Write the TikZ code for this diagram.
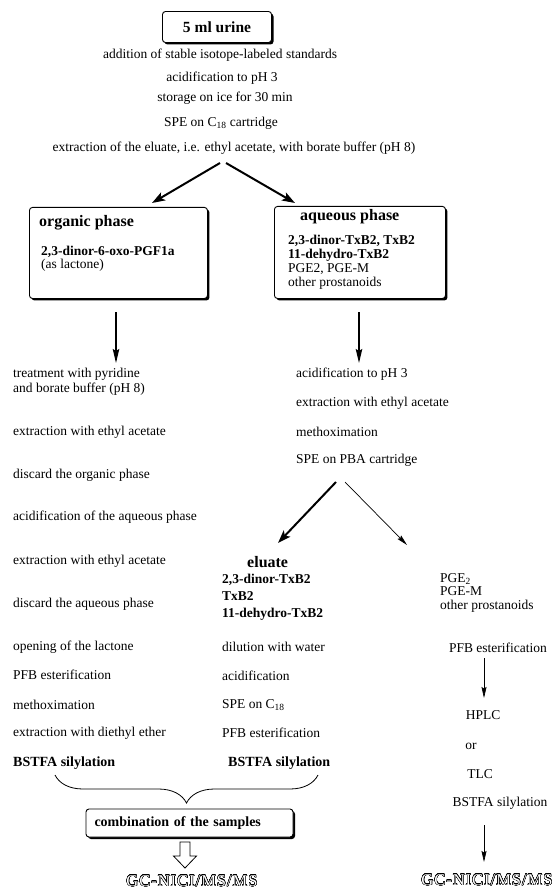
\documentclass[tikz,border=0pt]{standalone}
\usepackage{fontspec}
\setmainfont{Liberation Serif}
\usepackage[copies]{contour}
\contourlength{0.35pt}
\contournumber{24}
\usetikzlibrary{arrows.meta, shadows, decorations.pathreplacing, positioning}

\tikzset{
  steptext/.style={inner sep=0pt},
  phasebox/.style={draw, line width=0.9pt, rounded corners=3pt, fill=white, inner sep=0pt,
    drop shadow={shadow xshift=2pt, shadow yshift=-2pt, opacity=1, fill=black}},
  bigarrow/.style={-{Stealth[length=13pt, width=9pt, inset=3pt]}, line width=2pt},
  downarrow/.style={-{Stealth[length=14pt, width=6.5pt, inset=2pt]}, line width=1.5pt},
  slimarrow/.style={-{Stealth[length=11pt, width=5pt, inset=1.5pt]}, line width=0.7pt},
  hollowtext/.style={inner sep=0pt, font=\fontsize{16.5}{18}\selectfont\addfontfeatures{LetterSpace=6}},
}

\begin{document}
\begin{tikzpicture}[x=1pt, y=-1pt, font=\fontsize{13.5}{15}\selectfont]
    \useasboundingbox (0,0) rectangle (559,893);
    \def\colL{13}\def\colM{296}\def\colE{222}\def\colR{440}
    % common steps
    \node[phasebox, minimum width=109pt, minimum height=31pt, font=\fontsize{15.5}{17}\selectfont\bfseries] (urine) at (217,27) {5 ml urine};
    \node[steptext] (addstd) at (220,55) {addition of stable isotope-labeled standards};
    \node[steptext] (acidA) at (222,78) {acidification to pH 3};
    \node[steptext] (ice) at (225,98) {storage on ice for 30 min};
    \node[steptext] (speA) at (221,123) {SPE on C\textsubscript{18} cartridge};
    \node[steptext] (borate) at (234,148) {extraction of the eluate, i.e. ethyl acetate, with borate buffer (pH 8)};
    \coordinate (forkL) at (220,163);
    \coordinate (forkR) at (226,163);
    \coordinate (orgin) at (152,203);
    \coordinate (aqin) at (295,203);
    \draw[bigarrow] (forkL) -- (orgin);
    \draw[bigarrow] (forkR) -- (aqin);
    % the two phases
    \node[phasebox, anchor=north west, minimum width=178pt, minimum height=91pt] (orgbox) at (29,207) {};
    \node[steptext, anchor=west, font=\fontsize{16}{18}\selectfont\bfseries] (orghead) at (39,223) {organic phase};
    \node[steptext, anchor=north west, align=left, font=\fontsize{13.5}{13}\selectfont] (orglist) at (41,246) {\textbf{2,3-dinor-6-oxo-PGF1a}\\(as lactone)};
    \node[phasebox, anchor=north west, minimum width=171pt, minimum height=92pt] (aqbox) at (274,206) {};
    \node[steptext, anchor=west, font=\fontsize{16}{18}\selectfont\bfseries] (aqhead) at (300,217) {aqueous phase};
    \node[steptext, anchor=north west, align=left, font=\fontsize{13.5}{14}\selectfont] (aqlist) at (288,235) {\textbf{2,3-dinor-TxB2, TxB2}\\\textbf{11-dehydro-TxB2}\\PGE2, PGE-M\\other prostanoids};
    \coordinate (orgtop) at (116,312);
    \coordinate (orgend) at (116,363);
    \coordinate (aqtop) at (359,312);
    \coordinate (aqend) at (359,363);
    \draw[downarrow] (orgtop) -- (orgend);
    \draw[downarrow] (aqtop) -- (aqend);
    % organic branch
    \node[steptext, anchor=north west, align=left] (pyridine) at (\colL,368) {treatment with pyridine\\and borate buffer (pH 8)};
    \node[steptext, anchor=west] (extrL) at (\colL,432) {extraction with ethyl acetate};
    \node[steptext, anchor=west] (discorg) at (\colL,475) {discard the organic phase};
    \node[steptext, anchor=west] (acidaq) at (\colL,517) {acidification of the aqueous phase};
    \node[steptext, anchor=west] (extrL2) at (\colL,561) {extraction with ethyl acetate};
    \node[steptext, anchor=west] (discaq) at (\colL,604) {discard the aqueous phase};
    \node[steptext, anchor=west] (lactone) at (\colL,647) {opening of the lactone};
    \node[steptext, anchor=west] (pfbL) at (\colL,675) {PFB esterification};
    \node[steptext, anchor=west] (moxL) at (\colL,705) {methoximation};
    \node[steptext, anchor=west] (ether) at (\colL,733) {extraction with diethyl ether};
    \node[steptext, anchor=west, font=\fontsize{14}{16}\selectfont\bfseries] (bstfaL) at (\colL,763) {BSTFA silylation};
    % aqueous branch
    \node[steptext, anchor=west] (acidM) at (\colM,374) {acidification to pH 3};
    \node[steptext, anchor=west] (extrM) at (\colM,403) {extraction with ethyl acetate};
    \node[steptext, anchor=west] (moxM) at (\colM,432) {methoximation};
    \node[steptext, anchor=west] (pba) at (\colM,460) {SPE on PBA cartridge};
    \coordinate (pbaL) at (336,482);
    \coordinate (pbaR) at (345,482);
    \coordinate (eluin) at (278,543);
    \coordinate (othin) at (407,545);
    \draw[bigarrow] (pbaL) -- (eluin);
    \draw[slimarrow] (pbaR) -- (othin);
    % eluate
    \node[steptext, anchor=west, font=\fontsize{16}{18}\selectfont\bfseries] (eluate) at (247,562) {eluate};
    \node[steptext, anchor=north west, align=left, font=\fontsize{13.5}{17}\selectfont\bfseries] (elulist) at (\colE,574) {2,3-dinor-TxB2\\TxB2\\11-dehydro-TxB2};
    \node[steptext, anchor=west] (water) at (\colE,647) {dilution with water};
    \node[steptext, anchor=west] (acidE) at (\colE,676) {acidification};
    \node[steptext, anchor=west] (speE) at (\colE,705) {SPE on C\textsubscript{18}};
    \node[steptext, anchor=west] (pfbE) at (\colE,733) {PFB esterification};
    \node[steptext, anchor=west, font=\fontsize{14}{16}\selectfont\bfseries] (bstfaE) at (228,763) {BSTFA silylation};
    % other prostanoids
    \node[steptext, anchor=north west, align=left, font=\fontsize{13.5}{13.5}\selectfont] (others) at (\colR,573) {PGE\textsubscript{2}\\PGE-M\\other prostanoids};
    \node[steptext] (pfbR) at (498,648) {PFB esterification};
    \node[steptext] (hplc) at (483,715) {HPLC};
    \node[steptext] (orword) at (471,746) {or};
    \node[steptext] (tlc) at (480,774) {TLC};
    \node[steptext] (bstfaR) at (500,803) {BSTFA silylation};
    \coordinate (pfbdown) at (484,658);
    \coordinate (hplcin) at (484,698);
    \coordinate (bstfadown) at (484,825);
    \coordinate (gcin) at (484,862);
    \draw[slimarrow] (pfbdown) -- (hplcin);
    \draw[slimarrow] (bstfadown) -- (gcin);
    \node[hollowtext] (gcR) at (487,880) {\contour{black}{\textcolor{white}{GC-NICI/MS/MS}}};
    % combination
    \coordinate (braceL) at (55,775);
    \coordinate (braceR) at (318,775);
    \draw[line width=0.8pt, decorate, decoration={brace, mirror, amplitude=28pt}] (braceL) -- (braceR);
    \node[phasebox, minimum width=207pt, minimum height=28pt, text width=190pt, align=left, font=\fontsize{14}{16}\selectfont\bfseries] (combine) at (189.5,823) {combination of the samples};
    \coordinate (hollow) at (185,842);
    \draw[line width=0.8pt] (hollow) ++(-5,0) -- ++(10,0) -- ++(0,14) -- ++(6.5,0) -- ++(-11.5,12) -- ++(-11.5,-12) -- ++(6.5,0) -- cycle;
    \node[hollowtext] (gcL) at (192,881) {\contour{black}{\textcolor{white}{GC-NICI/MS/MS}}};
\end{tikzpicture}
\end{document}
